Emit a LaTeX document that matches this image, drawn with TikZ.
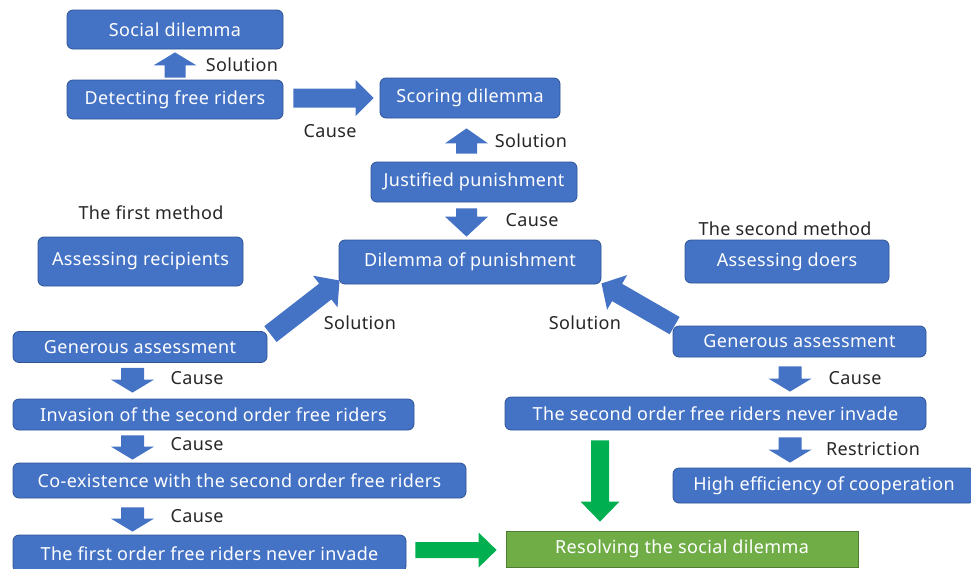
\documentclass[tikz,border=0pt]{standalone}
\usepackage{fontspec}
\setmainfont[LetterSpace=2]{Noto Sans}
\usetikzlibrary{calc}
\definecolor{boxblue}{HTML}{4472C4}
\definecolor{boxedge}{HTML}{2F5597}
\definecolor{boxgreen}{HTML}{70AD47}
\definecolor{greenedge}{HTML}{507E32}
\definecolor{arrgreen}{HTML}{00B050}
\definecolor{labelgray}{HTML}{262626}
\newcommand\blockarrow[6]{%
  \fill[#6] let \p1=(#1), \p2=(#2), \n1={atan2(\y2-\y1,\x2-\x1)}, \n2={veclen(\x2-\x1,\y2-\y1)} in
    [shift={(\p1)}, rotate=\n1]
    (0,-#3/2) -- (\n2-#5,-#3/2) -- (\n2-#5,-#4/2) -- (\n2,0) -- (\n2-#5,#4/2) -- (\n2-#5,#3/2) -- (0,#3/2) -- cycle;}
\begin{document}
\begin{tikzpicture}[x=1pt,y=-1pt,
  box/.style={draw=boxedge, line width=0.8pt, fill=boxblue, rounded corners=6pt, text=white,
    inner sep=0pt, font=\fontsize{18}{21}\selectfont},
  gbox/.style={draw=greenedge, line width=0.8pt, fill=boxgreen, text=white,
    inner sep=0pt, font=\fontsize{18}{21}\selectfont},
  lbl/.style={text=labelgray, inner sep=0pt, font=\fontsize{18}{21}\selectfont}]
\useasboundingbox (0,0) rectangle (971,568);
\clip (0,0) rectangle (971,568);

% boxes
\node[box, minimum width=216, minimum height=39] (soc) at (175,29.5) {Social dilemma};
\node[box, minimum width=216, minimum height=39] (det) at (175,99.5) {Detecting free riders};
\node[box, minimum width=180, minimum height=40] (sco) at (470,98) {Scoring dilemma};
\node[box, minimum width=206, minimum height=40] (jus) at (474,182) {Justified punishment};
\node[box, minimum width=262, minimum height=44] (dil) at (470,262) {Dilemma of punishment};
\node[box, minimum width=205, minimum height=49] (rec) at (140.5,261.5) {Assessing recipients};
\node[box, minimum width=204, minimum height=43] (doe) at (787,261.5) {Assessing doers};
\node[box, minimum width=254, minimum height=31] (genL) at (140,347) {Generous assessment};
\node[box, minimum width=253, minimum height=31] (genR) at (799.5,341.5) {Generous assessment};
\node[box, minimum width=401, minimum height=31] (inv) at (213.5,414.5) {Invasion of the second order free riders};
\node[box, minimum width=453, minimum height=35] (coe) at (239.5,480.5) {Co-existence with the second order free riders};
\node[box, minimum width=393, minimum height=37] (fir) at (209.5,553.5) {The first order free riders never invade};
\node[box, minimum width=421, minimum height=33] (sec) at (715.5,413.5) {The second order free riders never invade};
\node[box, minimum width=302, minimum height=35] (hig) at (824,485.5) {High efficiency of cooperation};
\node[gbox, minimum width=352, minimum height=36] (res) at (682,549) {Resolving the social dilemma};

% labels
\node[lbl] (l1) at (242,65) {Solution};
\node[lbl] (l2) at (330,131) {Cause};
\node[lbl] (l3) at (531,141) {Solution};
\node[lbl] (l4) at (532,220) {Cause};
\node[lbl] (m1) at (151,213) {The first method};
\node[lbl] (m2) at (785,229) {The second method};
\node[lbl] (l5) at (360,323) {Solution};
\node[lbl] (l6) at (585,323) {Solution};
\node[lbl] (l7) at (197,378) {Cause};
\node[lbl] (l8) at (197,444) {Cause};
\node[lbl] (l9) at (197,516) {Cause};
\node[lbl] (l10) at (855,378) {Cause};
\node[lbl] (l11) at (873,449) {Restriction};

% blue block arrows
\blockarrow{$(det.north)+(0,-2)$}{$(soc.south)+(0,3)$}{21}{43}{13}{boxblue}
\blockarrow{$(det.east)+(10,-1.5)$}{$(sco.west |- det.east)+(-6,-1.5)$}{19}{36}{18}{boxblue}
\blockarrow{$(jus.north)+(-7.5,-8)$}{$(jus.north |- sco.south)+(-7.5,10)$}{21}{43}{15}{boxblue}
\blockarrow{$(jus.south)+(-7.5,6)$}{$(jus.south |- dil.north)+(-7.5,-3)$}{21}{43}{20}{boxblue}
\blockarrow{$(genL.north east)+(3,3)$}{$(dil.south west)+(1,-4)$}{20}{40}{18}{boxblue}
\blockarrow{$(genR.north west)+(2,0)$}{$(dil.south east)+(0,-1)$}{20}{40}{18}{boxblue}
\blockarrow{$(genL.south)+(-7.5,5)$}{$(genL.south |- inv.north)+(-7.5,-6)$}{23}{43}{13}{boxblue}
\blockarrow{$(inv.south -| genL.south)+(-7.5,5)$}{$(genL.south |- coe.north)+(-7.5,-3)$}{23}{43}{13}{boxblue}
\blockarrow{$(coe.south -| genL.south)+(-7.5,9)$}{$(genL.south |- fir.north)+(-7.5,-3)$}{23}{43}{13}{boxblue}
\blockarrow{$(genR.south)+(-9.5,9)$}{$(genR.south |- sec.north)+(-9.5,-5)$}{23}{43}{13}{boxblue}
\blockarrow{$(sec.south -| genR.south)+(-9.5,7)$}{$(genR.south |- hig.north)+(-9.5,-5)$}{23}{43}{13}{boxblue}

% green block arrows
\blockarrow{$(sec.south)+(-115.5,10)$}{$(res.north)+(-82,-9)$}{18}{39}{20}{arrgreen}
\blockarrow{$(fir.east)+(9,-3.5)$}{$(res.west |- fir.east)+(-9,-3.5)$}{16}{35}{18}{arrgreen}
\end{tikzpicture}
\end{document}
